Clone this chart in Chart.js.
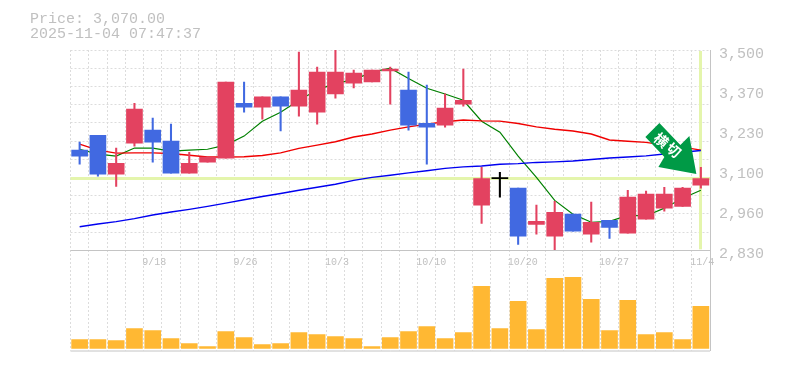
<!DOCTYPE html>
<html><head><meta charset="utf-8">
<style>html,body{margin:0;padding:0;background:#fff;overflow:hidden}canvas{display:block}</style>
<script src="https://cdn.jsdelivr.net/npm/chart.js@4"></script>
</head><body><canvas id="c" width="785" height="370"></canvas>
<script>
const categories = ['9/11','9/12','9/16','9/17','9/18','9/19','9/22','9/24','9/25','9/26','9/29','9/30','10/1','10/2','10/3','10/6','10/7','10/8','10/9','10/10','10/14','10/15','10/16','10/17','10/20','10/21','10/22','10/23','10/24','10/27','10/28','10/29','10/30','10/31','11/4'];
const shownDates = ['9/18','9/26','10/3','10/10','10/20','10/27','11/4'];
const opens  = [3165,3215,3085,3188,3232,3195,3088,3125,3138,3322,3309,3343,3312,3292,3353,3389,3393,3430,3366,3255,3249,3319,2981,3070,3038,2917,2877,2951,2884,2930,2887,2934,2971,2977,3048];
const closes = [3145,3085,3121,3302,3192,3088,3121,3142,3393,3309,3343,3312,3366,3426,3426,3423,3433,3436,3249,3242,3306,3332,3070,3073,2877,2927,2957,2894,2924,2907,3008,3018,3018,3038,3070];
const highs  = [3192,3215,3172,3322,3272,3252,3158,3142,3393,3393,3343,3343,3493,3443,3500,3433,3433,3443,3426,3383,3353,3436,3108,3091,3038,2981,2994,2951,2991,2930,3031,3028,3041,3041,3108];
const lows   = [3118,3078,3044,3178,3125,3088,3088,3125,3138,3292,3269,3229,3279,3252,3339,3373,3393,3319,3232,3118,3242,3312,2920,3008,2850,2884,2830,2894,2857,2870,2887,2934,2961,2977,3038];
const ma5    = [3168,3152,3145,3172,3172,3162,3165,3168,3182,3212,3262,3292,3332,3366,3389,3400,3426,3439,3405,3372,3353,3332,3262,3225,3145,3074,2997,2951,2924,2927,2947,2945,2971,3004,3031];
const ma25   = [3185,3165,3155,3156,3156,3154,3148,3142,3142,3143,3147,3156,3171,3182,3193,3209,3219,3232,3243,3252,3260,3266,3263,3262,3254,3243,3235,3229,3219,3199,3195,3191,3182,3175,3165];
const ma75   = [2909,2918,2926,2936,2948,2958,2967,2977,2988,2999,3010,3020,3031,3041,3051,3064,3074,3081,3089,3096,3104,3109,3112,3118,3120,3124,3126,3129,3134,3139,3142,3146,3152,3158,3164];
const volumes = [90,90,80,200,180,100,50,20,170,110,40,50,160,140,120,100,20,110,170,220,100,160,620,200,470,190,700,710,490,180,480,140,160,90,420];
const yTickValues = [3500,3366,3232,3098,2964,2830];
const yTickLabels = ['3,500','3,370','3,230','3,100','2,960','2,830'];
const priceText = 'Price: 3,070.00';
const timeText = '2025-11-04 07:47:37';
const currentPrice = 3070;
const arrowText = ['横','切'];

const RED='#E34260', BLUE='#4169E1', GRID='#dcdcdc', FRAME='#c4c4c4', TXT='#c0c0c0';
const candleColor = opens.map((o,i)=> i===23 ? '#000000' : (closes[i]>=o ? RED : BLUE));
const priceMin = yTickValues[yTickValues.length-1], priceMax = yTickValues[0];

const overlay = {
  id:'overlay',
  beforeDatasetsDraw(chart){
    const {ctx,chartArea:a,scales:{x,y}} = chart;
    ctx.save();
    ctx.fillStyle='#E4F5AC';
    const py=y.getPixelForValue(currentPrice), lx=x.getPixelForValue(categories.length-1);
    ctx.fillRect(a.left,Math.round(py-1.5),a.right-a.left,3);
    ctx.fillRect(Math.round(lx-1.5),y.top+1,3,y.bottom-y.top-2);
    ctx.restore();
  },
  afterDatasetsDraw(chart){
    const {ctx,chartArea:a,scales:{x,y}} = chart;
    const tx=x.getPixelForValue(categories.length-1)-4.5, ty=y.getPixelForValue(currentPrice)-4.5;
    ctx.save();
    ctx.fillStyle='#009A46';
    ctx.beginPath();
    [[0,0],[-38,-7],[-32,-17],[-51,-37],[-37,-51],[-16,-29],[-7,-38]].forEach((p,i)=> i?ctx.lineTo(tx+p[0],ty+p[1]):ctx.moveTo(tx+p[0],ty+p[1]));
    ctx.closePath(); ctx.fill();
    ctx.fillStyle='#fff'; ctx.font='bold 14px "Noto Sans CJK JP"'; ctx.textAlign='center'; ctx.textBaseline='middle';
    [[-35,-34],[-22.5,-24]].forEach((p,i)=>{
      ctx.save(); ctx.translate(tx+p[0],ty+p[1]); ctx.rotate(Math.PI*0.22); ctx.fillText(arrowText[i],0,0); ctx.restore();
    });
    ctx.restore();
    ctx.save();
    ctx.strokeStyle=FRAME; ctx.lineWidth=1;
    const mid=Math.round(y.bottom)+0.5;
    ctx.beginPath(); ctx.moveTo(a.left,a.bottom+0.5); ctx.lineTo(a.right,a.bottom+0.5);
    ctx.moveTo(a.left,mid); ctx.lineTo(a.right,mid); ctx.stroke();
    ctx.fillStyle=TXT; ctx.font='15px "Liberation Mono"'; ctx.textAlign='left'; ctx.textBaseline='alphabetic';
    ctx.fillText(priceText,30,23); ctx.fillText(timeText,30,38);
    ctx.restore();
  }
};

const gridTicks = [];
for(let i=0;i<=11;i++) gridTicks.push({value:priceMin+(priceMax-priceMin)*i/11,text:''});
const labelTicks = yTickValues.map((v,i)=>({value:v,text:yTickLabels[i]}));

new Chart(document.getElementById('c'),{
  data:{labels:categories,datasets:[
    {type:'line',data:ma5,borderColor:'#008000',borderWidth:1.2,pointRadius:0,tension:0,yAxisID:'y',order:5},
    {type:'line',data:ma25,borderColor:'#F00000',borderWidth:1.4,pointRadius:0,tension:0,yAxisID:'y',order:4},
    {type:'line',data:ma75,borderColor:'#0000F0',borderWidth:1.4,pointRadius:0,tension:0,yAxisID:'y',order:3},
    {type:'bar',data:lows.map((l,i)=>[l,highs[i]]),backgroundColor:candleColor,barThickness:1.4,grouped:false,yAxisID:'y',order:2},
    {type:'bar',data:opens.map((o,i)=>[o,closes[i]]),backgroundColor:candleColor,barThickness:16,grouped:false,yAxisID:'y',order:1},
    {type:'bar',data:volumes,backgroundColor:'#FFB833',barThickness:16,grouped:false,yAxisID:'yVol',order:1}
  ]},
  options:{
    responsive:false,animation:false,
    layout:{padding:{left:70.5,top:50,bottom:19.5,right:0}},
    plugins:{legend:{display:false},tooltip:{enabled:false},title:{display:false}},
    scales:{
      x:{type:'category',offset:true,position:{yVol:980},
        grid:{offset:true,color:GRID,lineWidth:1,tickLength:0,drawTicks:false},
        border:{display:true,color:FRAME,dash:[2,2],width:0},
        ticks:{autoSkip:false,maxRotation:0,minRotation:0,align:'start',labelOffset:-10.5,padding:6,
          color:TXT,font:{family:'"Liberation Mono"',size:10},
          callback(v,i){const c=categories[i];return shownDates.includes(c)?c:'';}}},
      y:{type:'linear',position:'right',stack:'panes',stackWeight:2,min:priceMin,max:priceMax,
        afterBuildTicks(s){s.ticks=gridTicks.concat(labelTicks).map(t=>({...t}));},
        afterFit(s){s.width=75;},
        grid:{drawTicks:false,lineWidth:1,color(c){return c.tick&&c.tick.text?'rgba(0,0,0,0)':GRID;}},
        border:{display:true,color:FRAME,width:1,dash:[2,2]},
        ticks:{autoSkip:false,padding:9,labelOffset:4,color:TXT,font:{family:'"Liberation Mono"',size:15},
          callback(v,i,t){return t[i].text;}}},
      yVol:{type:'linear',position:'right',stack:'panes',stackWeight:1,min:-20,max:980,
        afterFit(s){s.width=75;},
        grid:{display:false},border:{display:true,color:FRAME,width:1},ticks:{display:false}}
    }
  },
  plugins:[overlay]
});
</script></body></html>
